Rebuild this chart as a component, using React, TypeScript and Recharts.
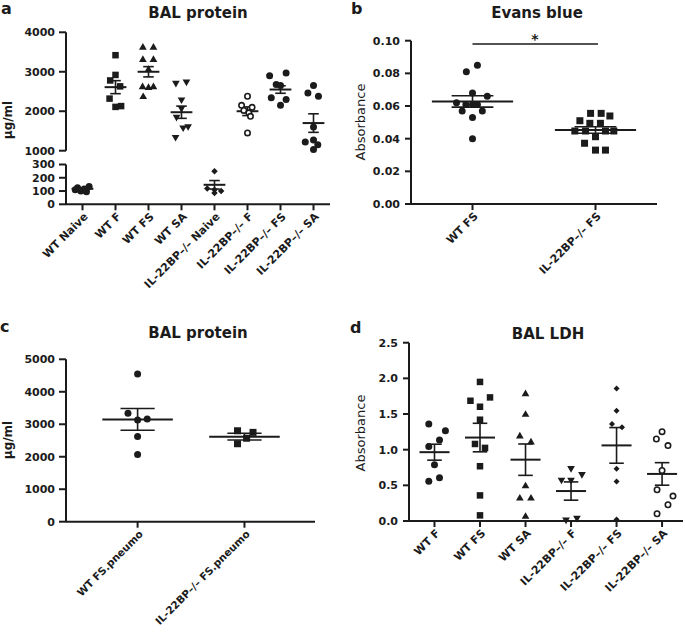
import React from 'react';
import { ScatterChart, Scatter, XAxis, YAxis, ReferenceLine } from 'recharts';

const INK = '#1b1b1b';
const FONT = '"DejaVu Sans", Arial, sans-serif';

// ---- panel a: BAL protein (broken axis) ----
const aCategories = ['WT Naive', 'WT F', 'WT FS', 'WT SA', 'IL-22BP–/– Naive', 'IL-22BP–/– F', 'IL-22BP–/– FS', 'IL-22BP–/– SA'];
const aWtNaive = [135, 125, 115, 110, 105, 100, 95];
const aWtNaiveJit = [0.2, -0.15, 0.05, -0.22, 0.1, -0.05, 0.12];
const aWtF = [3420, 2920, 2780, 2630, 2320, 2130, 2110];
const aWtFJit = [0, 0, -0.16, 0.14, -0.18, 0.17, 0];
const aWtFS = [3630, 3630, 3320, 3320, 3070, 2630, 2610, 2630, 2380];
const aWtFSJit = [-0.17, 0.15, -0.17, 0.15, 0, -0.18, 0, 0.15, -0.16];
const aWtSA = [2700, 2730, 2280, 2060, 1840, 1600, 1570, 1330];
const aWtSAJit = [-0.17, 0.15, 0, 0, -0.15, 0.2, 0.05, -0.18];
const aIlNaive = [250, 120, 110, 100, 85];
const aIlNaiveJit = [0, -0.22, 0, 0.2, 0];
const aIlF = [2380, 2150, 2100, 2020, 1960, 1870, 1450];
const aIlFJit = [0, -0.18, 0.14, -0.11, 0.04, 0.09, 0];
const aIlFS = [2900, 2970, 2680, 2650, 2340, 2300, 2150];
const aIlFSJit = [-0.33, 0.17, -0.13, 0, -0.28, 0.17, 0];
const aIlSA = [2650, 2460, 2380, 1600, 1270, 1220, 1150, 1030];
const aIlSAJit = [0, -0.17, 0.15, 0, 0, -0.25, 0.13, 0];
const aMeans = [117, 2610, 3000, 1975, 147, 2000, 2550, 1700];
const aSems = [7, 165, 130, 155, 32, 110, 95, 235];
const aUpperTicks = [1000, 2000, 3000, 4000];
const aLowerTicks = [0, 100, 200, 300];

// ---- panel b: Evans blue ----
const bCategories = ['WT FS', 'IL-22BP–/– FS'];
const bWt = [0.085, 0.081, 0.068, 0.066, 0.062, 0.061, 0.061, 0.061, 0.057, 0.057, 0.053, 0.04];
const bWtJit = [0.04, -0.05, 0, 0.12, -0.13, -0.054, 0, 0.04, -0.084, 0.08, 0, 0];
const bIl = [0.0555, 0.0555, 0.0539, 0.051, 0.0494, 0.0494, 0.0447, 0.0447, 0.0447, 0.0447, 0.0412, 0.0372, 0.033, 0.033];
const bIlJit = [-0.04, 0.046, 0.117, -0.127, -0.046, 0.04, -0.168, -0.081, 0.081, 0.149, 0, -0.089, 0, 0.081];
const bMeans = [0.0628, 0.0453];
const bSems = [0.0035, 0.002];
const bTicks = [0, 0.02, 0.04, 0.06, 0.08, 0.1];

// ---- panel c: BAL protein (pneumo) ----
const cCategories = ['WT FS.pneumo', 'IL-22BP–/– FS.pneumo'];
const cWt = [4550, 3340, 3130, 3160, 2620, 2070];
const cWtJit = [0, -0.09, 0, 0.09, 0, 0];
const cIl = [2800, 2750, 2400, 2570];
const cIlJit = [-0.065, 0.08, -0.065, 0.02];
const cMeans = [3150, 2618];
const cSems = [335, 103];
const cTicks = [0, 1000, 2000, 3000, 4000, 5000];

// ---- panel d: BAL LDH ----
const dCategories = ['WT F', 'WT FS', 'WT SA', 'IL-22BP–/– F', 'IL-22BP–/– FS', 'IL-22BP–/– SA'];
const dWtF = [1.36, 1.267, 1.136, 1.043, 0.787, 0.559, 0.605];
const dWtFJit = [-0.125, 0.24, 0.11, -0.125, 0, -0.125, 0.11];
const dWtFS = [1.95, 1.686, 1.733, 1.602, 1.42, 1.08, 1.025, 0.768, 0.359, 0.079];
const dWtFSJit = [0, -0.21, 0.22, 0, 0, -0.11, 0.11, 0, 0, 0];
const dWtSA = [1.789, 1.5, 1.197, 1.113, 0.498, 0.326, 0.326, 0.07];
const dWtSAJit = [0, 0, -0.125, 0.12, 0, -0.125, 0.12, 0];
const dIlF = [0.731, 0.568, 0.568, 0.647, 0.01, 0.033];
const dIlFJit = [0, -0.21, 0, 0.24, -0.11, 0.13];
const dIlFS = [1.858, 1.546, 1.36, 1.313, 0.731, 0.554, 0.02];
const dIlFSJit = [0, 0, -0.1, 0.12, 0, 0, 0];
const dIlSA = [1.253, 1.15, 1.057, 0.708, 0.438, 0.349, 0.228, 0.102];
const dIlSAJit = [0, -0.125, 0.13, 0, -0.11, 0.24, 0.13, -0.11];
const dMeans = [0.965, 1.17, 0.86, 0.42, 1.06, 0.66];
const dSems = [0.112, 0.2, 0.22, 0.128, 0.25, 0.158];
const dTicks = [0, 0.5, 1, 1.5, 2, 2.5];

const pts = (cat: number, vals: number[], jit: number[]) => vals.map((y, i) => ({ x: cat + jit[i], y }));

const Marker = ({ cx, cy, kind, size }: any) => {
  const h = size / 2;
  if (cx == null || cy == null) return null;
  switch (kind) {
    case 'square':
      return <rect x={cx - h} y={cy - h} width={size} height={size} fill={INK} />;
    case 'triangle':
      return <polygon points={`${cx},${cy - h * 1.1} ${cx + h * 1.1},${cy + h * 0.8} ${cx - h * 1.1},${cy + h * 0.8}`} fill={INK} />;
    case 'down':
      return <polygon points={`${cx},${cy + h * 1.1} ${cx + h * 1.1},${cy - h * 0.8} ${cx - h * 1.1},${cy - h * 0.8}`} fill={INK} />;
    case 'diamond':
      return <polygon points={`${cx},${cy - h} ${cx + h},${cy} ${cx},${cy + h} ${cx - h},${cy}`} fill={INK} />;
    case 'open':
      return <circle cx={cx} cy={cy} r={h - 0.8} fill="#fff" stroke={INK} strokeWidth={1.6} />;
    default:
      return <circle cx={cx} cy={cy} r={h} fill={INK} />;
  }
};

const shape = (kind: string, size: number) => (props: any) => <Marker cx={props.cx} cy={props.cy} kind={kind} size={size} />;

const meanSem = (key: string, cat: number, mean: number, sem: number, halfW: number, capW: number) => [
  <ReferenceLine key={key + 'm'} segment={[{ x: cat - halfW, y: mean }, { x: cat + halfW, y: mean }]} stroke={INK} strokeWidth={2} ifOverflow="visible" />,
  <ReferenceLine key={key + 'v'} segment={[{ x: cat, y: mean - sem }, { x: cat, y: mean + sem }]} stroke={INK} strokeWidth={1.6} ifOverflow="visible" />,
  <ReferenceLine key={key + 'h'} segment={[{ x: cat - capW, y: mean + sem }, { x: cat + capW, y: mean + sem }]} stroke={INK} strokeWidth={1.6} ifOverflow="visible" />,
  <ReferenceLine key={key + 'l'} segment={[{ x: cat - capW, y: mean - sem }, { x: cat + capW, y: mean - sem }]} stroke={INK} strokeWidth={1.6} ifOverflow="visible" />,
];

const RotTick = ({ x, y, payload, labels, size = 11 }: any) => (
  <text transform={`translate(${x + 6},${y + 6}) rotate(-45)`} textAnchor="end" fontFamily={FONT} fontWeight="bold" fontSize={size} fill={INK}>
    {labels[Math.round(payload.value)]}
  </text>
);

const yTick = { fontSize: 11, fontWeight: 'bold', fill: INK, fontFamily: FONT } as any;
const axisLine = { stroke: INK, strokeWidth: 2 };
const tickLine = { stroke: INK, strokeWidth: 2 };

const box = (left: number, top: number): React.CSSProperties => ({ position: 'absolute', left, top });

export default function App() {
  const lowerMeans = [0, 4];
  const upperMeans = [1, 2, 3, 5, 6, 7];
  return (
    <div style={{ position: 'absolute', left: 0, top: 0, width: 685, height: 635, background: '#fff', overflow: 'hidden' }}>
      {/* a upper */}
      <div style={box(0, 0)}>
        <ScatterChart width={340} height={160} margin={{ top: 32.3, right: 10, bottom: 9.3, left: 0 }}>
          <XAxis type="number" dataKey="x" domain={[-0.5, 7.5]} hide />
          <YAxis type="number" dataKey="y" domain={[1000, 4000]} ticks={aUpperTicks} interval={0} width={66} tick={yTick} axisLine={axisLine} tickLine={tickLine} tickSize={7} tickMargin={4} />
          <Scatter data={pts(1, aWtF, aWtFJit)} shape={shape('square', 6.5)} isAnimationActive={false} />
          <Scatter data={pts(2, aWtFS, aWtFSJit)} shape={shape('triangle', 7)} isAnimationActive={false} />
          <Scatter data={pts(3, aWtSA, aWtSAJit)} shape={shape('down', 7)} isAnimationActive={false} />
          <Scatter data={pts(5, aIlF, aIlFJit)} shape={shape('open', 7)} isAnimationActive={false} />
          <Scatter data={pts(6, aIlFS, aIlFSJit)} shape={shape('circle', 7)} isAnimationActive={false} />
          <Scatter data={pts(7, aIlSA, aIlSAJit)} shape={shape('circle', 7)} isAnimationActive={false} />
          {upperMeans.map((c) => meanSem('a' + c, c, aMeans[c], aSems[c], 0.33, 0.16))}
        </ScatterChart>
      </div>
      {/* a lower */}
      <div style={box(0, 150)}>
        <ScatterChart width={340} height={170} margin={{ top: 14.5, right: 10, bottom: 0, left: 0 }}>
          <XAxis type="number" dataKey="x" domain={[-0.5, 7.5]} ticks={[0, 1, 2, 3, 4, 5, 6, 7]} height={115.7} interval={0}
            tick={<RotTick labels={aCategories} />} axisLine={axisLine} tickLine={tickLine} tickSize={6} tickMargin={1} />
          <YAxis type="number" dataKey="y" domain={[0, 300]} ticks={aLowerTicks} interval={0} width={66} tick={yTick} axisLine={axisLine} tickLine={tickLine} tickSize={7} tickMargin={4} />
          <Scatter data={pts(0, aWtNaive, aWtNaiveJit)} shape={shape('circle', 7)} isAnimationActive={false} />
          <Scatter data={pts(4, aIlNaive, aIlNaiveJit)} shape={shape('diamond', 6.5)} isAnimationActive={false} />
          {lowerMeans.map((c) => meanSem('a' + c, c, aMeans[c], aSems[c], 0.33, 0.16))}
        </ScatterChart>
      </div>
      {/* b */}
      <div style={box(340, 0)}>
        <ScatterChart width={345} height={320} margin={{ top: 40.7, right: 28, bottom: 0, left: 0 }}>
          <XAxis type="number" dataKey="x" domain={[-0.5, 1.5]} ticks={[0, 1]} height={116} interval={0}
            tick={<RotTick labels={bCategories} />} axisLine={axisLine} tickLine={tickLine} tickSize={6} tickMargin={1} />
          <YAxis type="number" dataKey="y" domain={[0, 0.1]} ticks={bTicks} interval={0} width={71} tick={yTick} tickFormatter={(v) => Number(v).toFixed(2)}
            axisLine={axisLine} tickLine={tickLine} tickSize={6} tickMargin={5} />
          <Scatter data={pts(0, bWt, bWtJit)} shape={shape('circle', 7)} isAnimationActive={false} />
          <Scatter data={pts(1, bIl, bIlJit)} shape={shape('square', 7)} isAnimationActive={false} />
          {[0, 1].map((c) => meanSem('b' + c, c, bMeans[c], bSems[c], 0.33, 0.17))}
          <ReferenceLine segment={[{ x: 0, y: 0.098 }, { x: 1.02, y: 0.098 }]} stroke={INK} strokeWidth={1.6} ifOverflow="visible" />
        </ScatterChart>
      </div>
      {/* c */}
      <div style={box(0, 320)}>
        <ScatterChart width={340} height={315} margin={{ top: 39.3, right: 25, bottom: 0, left: 0 }}>
          <XAxis type="number" dataKey="x" domain={[-0.67, 1.66]} ticks={[0, 1]} height={113.3} interval={0}
            tick={<RotTick labels={cCategories} size={10.4} />} axisLine={axisLine} tickLine={tickLine} tickSize={6} tickMargin={1} />
          <YAxis type="number" dataKey="y" domain={[0, 5000]} ticks={cTicks} interval={0} width={66} tick={yTick} axisLine={axisLine} tickLine={tickLine} tickSize={7} tickMargin={4} />
          <Scatter data={pts(0, cWt, cWtJit)} shape={shape('circle', 7)} isAnimationActive={false} />
          <Scatter data={pts(1, cIl, cIlJit)} shape={shape('square', 7)} isAnimationActive={false} />
          {[0, 1].map((c) => meanSem('c' + c, c, cMeans[c], cSems[c], 0.33, 0.16))}
        </ScatterChart>
      </div>
      {/* d */}
      <div style={box(340, 320)}>
        <ScatterChart width={345} height={315} margin={{ top: 22.7, right: 2, bottom: 0, left: 0 }}>
          <XAxis type="number" dataKey="x" domain={[-0.56, 5.46]} ticks={[0, 1, 2, 3, 4, 5]} height={114} interval={0}
            tick={<RotTick labels={dCategories} />} axisLine={axisLine} tickLine={tickLine} tickSize={6} tickMargin={1} />
          <YAxis type="number" dataKey="y" domain={[0, 2.5]} ticks={dTicks} interval={0} width={69} tick={yTick} tickFormatter={(v) => Number(v).toFixed(1)}
            axisLine={axisLine} tickLine={tickLine} tickSize={6} tickMargin={5} />
          <Scatter data={pts(0, dWtF, dWtFJit)} shape={shape('circle', 7)} isAnimationActive={false} />
          <Scatter data={pts(1, dWtFS, dWtFSJit)} shape={shape('square', 6.5)} isAnimationActive={false} />
          <Scatter data={pts(2, dWtSA, dWtSAJit)} shape={shape('triangle', 7)} isAnimationActive={false} />
          <Scatter data={pts(3, dIlF, dIlFJit)} shape={shape('down', 7)} isAnimationActive={false} />
          <Scatter data={pts(4, dIlFS, dIlFSJit)} shape={shape('diamond', 6)} isAnimationActive={false} />
          <Scatter data={pts(5, dIlSA, dIlSAJit)} shape={shape('open', 7)} isAnimationActive={false} />
          {[0, 1, 2, 3, 4, 5].map((c) => meanSem('d' + c, c, dMeans[c], dSems[c], 0.33, 0.16))}
        </ScatterChart>
      </div>
      {/* titles, panel letters, axis titles */}
      <svg width={685} height={635} style={{ position: 'absolute', left: 0, top: 0, pointerEvents: 'none' }} fontFamily={FONT} fill={INK}>
        <text x={1} y={14} fontSize={16} fontWeight="bold">a</text>
        <text x={351} y={13.5} fontSize={16} fontWeight="bold">b</text>
        <text x={0} y={332} fontSize={16} fontWeight="bold">c</text>
        <text x={350} y={333} fontSize={16} fontWeight="bold">d</text>
        <text x={198} y={18} fontSize={15} fontWeight="bold" textAnchor="middle">BAL protein</text>
        <text x={537} y={18} fontSize={15} fontWeight="bold" textAnchor="middle">Evans blue</text>
        <text x={198} y={338} fontSize={15} fontWeight="bold" textAnchor="middle">BAL protein</text>
        <text x={548} y={339} fontSize={15} fontWeight="bold" textAnchor="middle">BAL LDH</text>
        <text transform="translate(12,120) rotate(-90)" fontSize={12} fontWeight="bold" textAnchor="middle">µg/ml</text>
        <text transform="translate(12,440) rotate(-90)" fontSize={12} fontWeight="bold" textAnchor="middle">µg/ml</text>
        <text transform="translate(365,122) rotate(-90)" fontSize={13} textAnchor="middle">Absorbance</text>
        <text transform="translate(365,433) rotate(-90)" fontSize={13} textAnchor="middle">Absorbance</text>
        <text x={535} y={44} fontSize={14} fontWeight="bold" textAnchor="middle">*</text>
      </svg>
    </div>
  );
}
